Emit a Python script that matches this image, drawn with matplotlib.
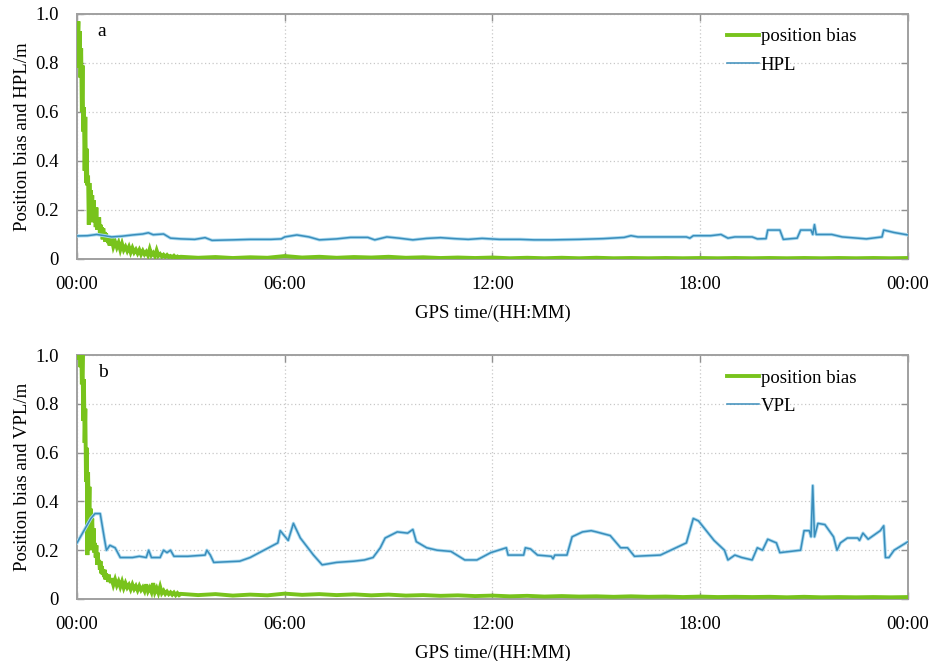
import numpy as np
import matplotlib
matplotlib.use("Agg")
import matplotlib.pyplot as plt

plt.rcParams['font.family'] = 'serif'
plt.rcParams['font.serif'] = ['Liberation Serif', 'DejaVu Serif']

# ---------------- data ----------------
# time grid segments (hours)
t_seg1 = np.round(np.arange(0.0, 1.0001, 0.02), 3)
t_seg2 = np.round(np.arange(1.05, 3.0001, 0.05), 3)
t_seg3 = np.round(np.arange(3.5, 24.0001, 0.5), 3)
t_bias = np.concatenate([t_seg1, t_seg2, t_seg3])

bias_a = [0.96, 0.90, 0.97, 0.78, 0.93, 0.74, 0.86, 0.60, 0.79, 0.52, 0.62,
          0.36, 0.58, 0.31, 0.45, 0.30, 0.34, 0.14, 0.31, 0.21, 0.28, 0.19,
          0.26, 0.15, 0.24, 0.16, 0.20, 0.13, 0.21, 0.12, 0.16, 0.12, 0.17,
          0.10, 0.14, 0.095, 0.13, 0.08, 0.125, 0.085, 0.11, 0.07, 0.105, 0.075,
          0.09, 0.065, 0.095, 0.055, 0.08, 0.06, 0.085,
          0.05, 0.07, 0.048, 0.066, 0.038, 0.062, 0.037, 0.05, 0.033, 0.049,
          0.027, 0.045, 0.027, 0.038, 0.023, 0.037, 0.019, 0.033, 0.019, 0.029,
          0.015, 0.04, 0.016, 0.025, 0.012, 0.035, 0.013, 0.02, 0.01, 0.017,
          0.009, 0.016, 0.008, 0.012, 0.007, 0.013, 0.006, 0.01, 0.005, 0.009,
          0.005, 0.008, 0.004, 0.007, 0.005, 0.012, 0.006, 0.009, 0.005, 0.008,
          0.006, 0.009, 0.005, 0.007, 0.004, 0.006, 0.004, 0.006, 0.003, 0.005,
          0.003, 0.005, 0.003, 0.005, 0.003, 0.004, 0.003, 0.004, 0.003, 0.004,
          0.003, 0.004, 0.003, 0.004, 0.003, 0.004, 0.003, 0.004, 0.003, 0.004,
          0.003, 0.004]

bias_b = [1.10, 1.05, 1.10, 0.98, 1.10, 0.95, 1.05, 0.88, 1.00, 0.73, 0.90,
          0.64, 0.78, 0.48, 0.62, 0.18, 0.52, 0.34, 0.46, 0.20, 0.37, 0.28,
          0.33, 0.21, 0.29, 0.19, 0.23, 0.17, 0.22, 0.14, 0.19, 0.14, 0.16,
          0.12, 0.155, 0.105, 0.135, 0.10, 0.12, 0.09, 0.12, 0.08, 0.105, 0.085,
          0.095, 0.07, 0.10, 0.07, 0.085, 0.065, 0.085,
          0.058, 0.08, 0.056, 0.072, 0.05, 0.071, 0.046, 0.065, 0.047, 0.058,
          0.04, 0.059, 0.041, 0.053, 0.036, 0.053, 0.037, 0.048, 0.033, 0.06,
          0.032, 0.046, 0.029, 0.065, 0.028, 0.044, 0.025, 0.05, 0.024, 0.034,
          0.021, 0.03, 0.02, 0.027, 0.018, 0.026, 0.016, 0.024, 0.016, 0.021,
          0.016, 0.02, 0.014, 0.018, 0.015, 0.022, 0.017, 0.02, 0.016, 0.019,
          0.015, 0.018, 0.014, 0.016, 0.013, 0.015, 0.012, 0.014, 0.011, 0.013,
          0.01, 0.012, 0.01, 0.011, 0.009, 0.011, 0.009, 0.01, 0.008, 0.01,
          0.008, 0.009, 0.008, 0.009, 0.007, 0.009, 0.007, 0.008, 0.007, 0.008,
          0.007, 0.008]

t_hpl = [0.0, 0.3, 0.57, 0.8, 1.0, 1.3, 1.6, 1.9, 2.06, 2.2, 2.5, 2.7, 3.0,
         3.4, 3.7, 3.9, 4.5, 5.0, 5.6, 5.9, 6.0, 6.35, 6.7, 7.0, 7.5, 7.9,
         8.4, 8.6, 8.95, 9.3, 9.7, 10.1, 10.5, 10.9, 11.3, 11.7, 12.2, 12.8,
         13.2, 13.7, 14.5, 15.2, 15.8, 16.0, 16.2, 17.0, 17.6, 17.7, 17.8,
         18.3, 18.6, 18.8, 19.0, 19.5, 19.65, 19.9, 19.95, 20.3, 20.4, 20.8,
         20.9, 21.2, 21.25, 21.3, 21.35, 21.8, 22.1, 22.8, 23.25, 23.3, 23.6,
         24.0]
hpl = [0.094, 0.095, 0.100, 0.095, 0.090, 0.093, 0.098, 0.102, 0.107, 0.099,
       0.102, 0.085, 0.082, 0.080, 0.087, 0.076, 0.078, 0.080, 0.080, 0.082,
       0.090, 0.098, 0.090, 0.078, 0.082, 0.088, 0.088, 0.078, 0.090, 0.085,
       0.078, 0.084, 0.087, 0.083, 0.080, 0.084, 0.080, 0.080, 0.078, 0.078,
       0.080, 0.083, 0.088, 0.095, 0.090, 0.090, 0.090, 0.085, 0.095, 0.095,
       0.100, 0.085, 0.090, 0.090, 0.082, 0.083, 0.118, 0.118, 0.080, 0.085,
       0.118, 0.118, 0.100, 0.140, 0.100, 0.100, 0.090, 0.082, 0.090, 0.118,
       0.108, 0.098]

t_vpl = [0.0, 0.2, 0.4, 0.52, 0.67, 0.8, 0.85, 0.95, 1.1, 1.25, 1.6, 1.8,
         2.0, 2.07, 2.15, 2.4, 2.5, 2.6, 2.7, 2.8, 3.2, 3.7, 3.75, 3.85, 3.95,
         4.7, 5.0, 5.4, 5.8, 5.87, 6.1, 6.25, 6.45, 6.83, 7.08, 7.5, 8.0, 8.3,
         8.55, 8.76, 8.9, 9.25, 9.55, 9.7, 9.8, 10.1, 10.4, 10.8, 11.2, 11.55,
         11.95, 12.4, 12.45, 12.9, 12.95, 13.1, 13.3, 13.7, 13.75, 13.8, 14.15,
         14.3, 14.6, 14.85, 15.0, 15.4, 15.7, 15.9, 16.1, 16.85, 17.6, 17.8,
         17.95, 18.4, 18.7, 18.8, 19.0, 19.2, 19.5, 19.65, 19.8, 19.95, 20.2,
         20.3, 20.9, 21.0, 21.15, 21.2, 21.25, 21.3, 21.4, 21.6, 21.85, 21.95,
         22.05, 22.25, 22.55, 22.6, 22.7, 22.85, 23.2, 23.3, 23.35, 23.45,
         23.6, 24.0]
vpl = [0.23, 0.28, 0.33, 0.35, 0.35, 0.24, 0.20, 0.22, 0.21, 0.17, 0.17,
       0.175, 0.17, 0.20, 0.17, 0.17, 0.20, 0.19, 0.20, 0.175, 0.175, 0.18,
       0.20, 0.18, 0.15, 0.155, 0.17, 0.20, 0.23, 0.28, 0.24, 0.31, 0.25,
       0.18, 0.14, 0.15, 0.155, 0.16, 0.17, 0.21, 0.25, 0.275, 0.27, 0.285,
       0.235, 0.21, 0.20, 0.195, 0.16, 0.16, 0.19, 0.21, 0.18, 0.18, 0.21,
       0.205, 0.18, 0.175, 0.165, 0.18, 0.18, 0.255, 0.275, 0.28, 0.275, 0.26,
       0.21, 0.21, 0.175, 0.18, 0.23, 0.33, 0.32, 0.24, 0.20, 0.16, 0.18,
       0.17, 0.16, 0.21, 0.20, 0.245, 0.23, 0.19, 0.20, 0.28, 0.28, 0.255,
       0.465, 0.255, 0.31, 0.305, 0.255, 0.20, 0.23, 0.25, 0.25, 0.24, 0.27,
       0.245, 0.28, 0.30, 0.17, 0.17, 0.20, 0.235]

x_ticks = [0, 6, 12, 18, 24]
x_labels = ["00:00", "06:00", "12:00", "18:00", "00:00"]
y_ticks = [0, 0.2, 0.4, 0.6, 0.8, 1.0]
y_labels = ["0", "0.2", "0.4", "0.6", "0.8", "1.0"]

GREEN = "#78c31c"
BLUE = "#3a8dbb"
HALO = "#a9daf0"
SPINE = "#a0a0a0"

fig = plt.figure(figsize=(9.30, 6.61), dpi=100)
ax_a = fig.add_axes([0.0828, 0.6082, 0.8935, 0.3707])
ax_b = fig.add_axes([0.0828, 0.0938, 0.8935, 0.3691])

panels = [
    (ax_a, bias_a, t_hpl, hpl, "HPL", "a", "Position bias and HPL/m"),
    (ax_b, bias_b, t_vpl, vpl, "VPL", "b", "Position bias and VPL/m"),
]

for ax, bias, tl, pl, plname, letter, ylab in panels:
    ax.plot(t_bias, bias, color=GREEN, lw=2.8, solid_joinstyle='miter',
            zorder=3, label="position bias")
    ax.plot(tl, pl, color=HALO, lw=2.4, zorder=3.5)
    ax.plot(tl, pl, color=BLUE, lw=1.1, zorder=4, label=plname)
    ax.set_xlim(0, 24)
    ax.set_ylim(0, 1.0)
    ax.set_xticks(x_ticks)
    ax.set_xticklabels(x_labels, fontsize=13.5)
    ax.set_yticks(y_ticks)
    ax.set_yticklabels(y_labels, fontsize=13.5)
    ax.grid(True, color="#c8c8c8", linestyle=(0, (1, 2)), lw=0.9)
    ax.tick_params(direction='in', top=True, right=True, length=5,
                   color="#909090", width=1.0)
    ax.tick_params(axis='x', pad=12)
    ax.tick_params(axis='y', pad=13)
    for s in ax.spines.values():
        s.set_color(SPINE)
        s.set_linewidth(1.4)
    ax.set_xlabel("GPS time/(HH:MM)", fontsize=13.5, labelpad=9)
    ax.set_ylabel(ylab, fontsize=13.5, labelpad=3)
    ax.text(0.025, 0.93, letter, transform=ax.transAxes, fontsize=14,
            ha='left', va='center')
    ax.legend(loc='upper left', bbox_to_anchor=(0.762, 1.01),
              frameon=False, fontsize=13.5, handlelength=1.7,
              handletextpad=0.1, labelspacing=0.6)

fig.savefig("out.png", dpi=100)
